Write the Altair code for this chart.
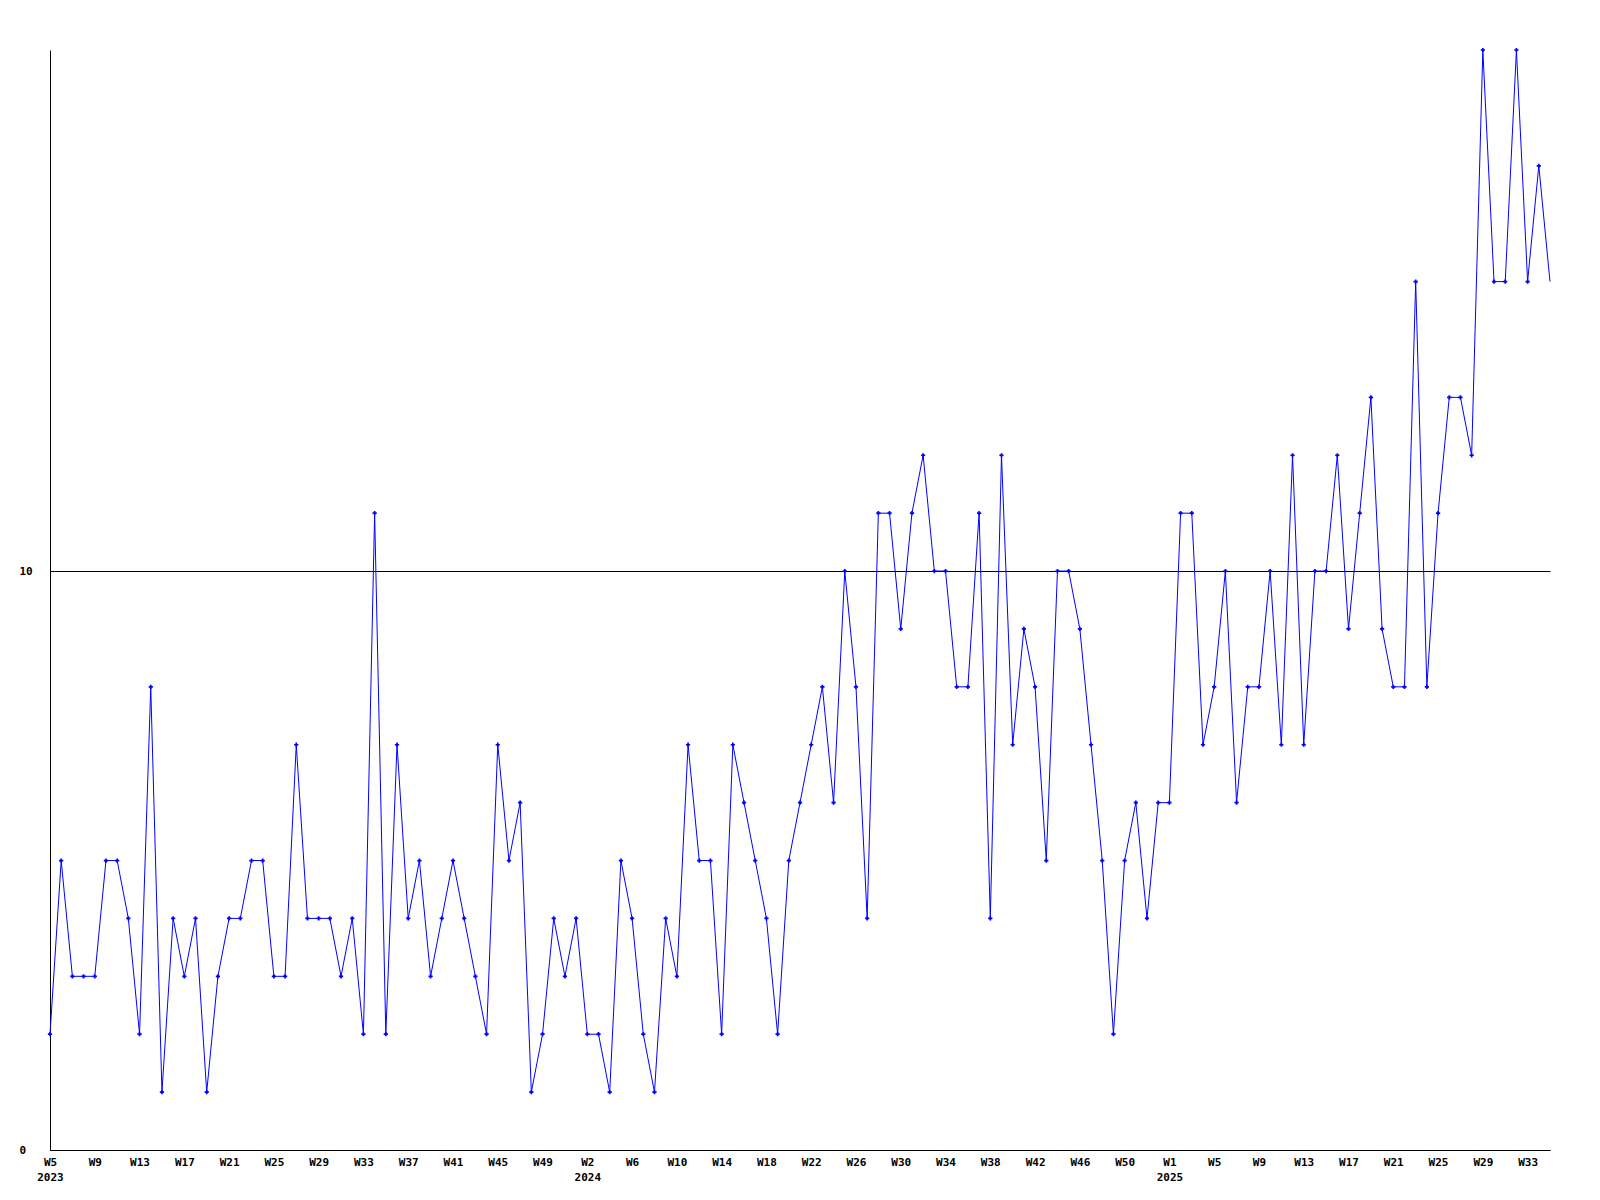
import json
import altair as alt
import pandas as pd

# Weekly counts, first point = 2023 W5, one value per week
values = [2, 5, 3, 3, 3, 5, 5, 4, 2, 8,
          1, 4, 3, 4, 1, 3, 4, 4, 5, 5,
          3, 3, 7, 4, 4, 4, 3, 4, 2, 11,
          2, 7, 4, 5, 3, 4, 5, 4, 3, 2,
          7, 5, 6, 1, 2, 4, 3, 4, 2, 2,
          1, 5, 4, 2, 1, 4, 3, 7, 5, 5,
          2, 7, 6, 5, 4, 2, 5, 6, 7, 8,
          6, 10, 8, 4, 11, 11, 9, 11, 12, 10,
          10, 8, 8, 11, 4, 12, 7, 9, 8, 5,
          10, 10, 9, 7, 5, 2, 5, 6, 4, 6,
          6, 11, 11, 7, 8, 10, 6, 8, 8, 10,
          7, 12, 7, 10, 10, 12, 9, 11, 13, 9,
          8, 8, 15, 8, 11, 13, 13, 12, 19, 15,
          15, 19, 15, 17, 15]

# Tick labels, one every 4 weeks
week_labels_2023 = ["W5", "W9", "W13", "W17", "W21", "W25", "W29", "W33",
                    "W37", "W41", "W45", "W49"]
week_labels_2024 = ["W2", "W6", "W10", "W14", "W18", "W22", "W26", "W30",
                    "W34", "W38", "W42", "W46", "W50"]
week_labels_2025 = ["W1", "W5", "W9", "W13", "W17", "W21", "W25", "W29", "W33"]
years = ["2023", "2024", "2025"]
tick_step = 4

y_labels = [0, 10]
y_max = 19

labels = []
for year, group in zip(years, [week_labels_2023, week_labels_2024, week_labels_2025]):
    for k, w in enumerate(group):
        labels.append([w, year if k == 0 else ""])
tick_vals = [k * tick_step for k in range(len(labels))]

n = len(values)
df = pd.DataFrame({"i": list(range(n)), "v": values})

FONT = "DejaVu Sans Mono"
BLUE = "#0000ff"

x_enc = alt.X(
    "i:Q",
    scale=alt.Scale(domain=[0, n - 1], nice=False, zero=False),
    axis=alt.Axis(
        values=tick_vals,
        labelExpr=json.dumps(labels) + "[round(datum.value/%d)]" % tick_step,
        title=None, grid=False, ticks=False, tickSize=0,
        labelPadding=6, labelLineHeight=15,
        labelFont=FONT, labelFontSize=11, labelFontWeight="bold",
        labelColor="black", labelOverlap=False, labelFlush=False,
        domainColor="black", domainWidth=1,
    ),
)
y_enc = alt.Y(
    "v:Q",
    scale=alt.Scale(domain=[0, y_max], nice=False),
    axis=alt.Axis(
        values=y_labels, format="d", title=None, grid=True, gridColor="black",
        gridOpacity=1, gridWidth=1, ticks=False, tickSize=0,
        labelAlign="left", labelBaseline="middle", labelPadding=31,
        labelFont=FONT, labelFontSize=11, labelFontWeight="bold",
        labelColor="black", domainColor="black", domainWidth=1,
    ),
)

line = alt.Chart(df).mark_line(color=BLUE, strokeWidth=1).encode(x=x_enc, y=y_enc)
pts = alt.Chart(df).mark_point(
    shape="cross", filled=True, size=18, color=BLUE, opacity=1
).encode(x="i:Q", y="v:Q").transform_filter(alt.datum.i < n - 1)

chart = (
    alt.layer(line, pts)
    .properties(
        width=1500, height=1100,
        autosize=alt.AutoSizeParams(type="none"),
        padding={"left": 42, "top": 42, "right": 30, "bottom": 40},
        background="white",
    )
    .configure_view(stroke=None)
)

chart.save("out.html", embed_options={"renderer": "svg", "actions": False})
